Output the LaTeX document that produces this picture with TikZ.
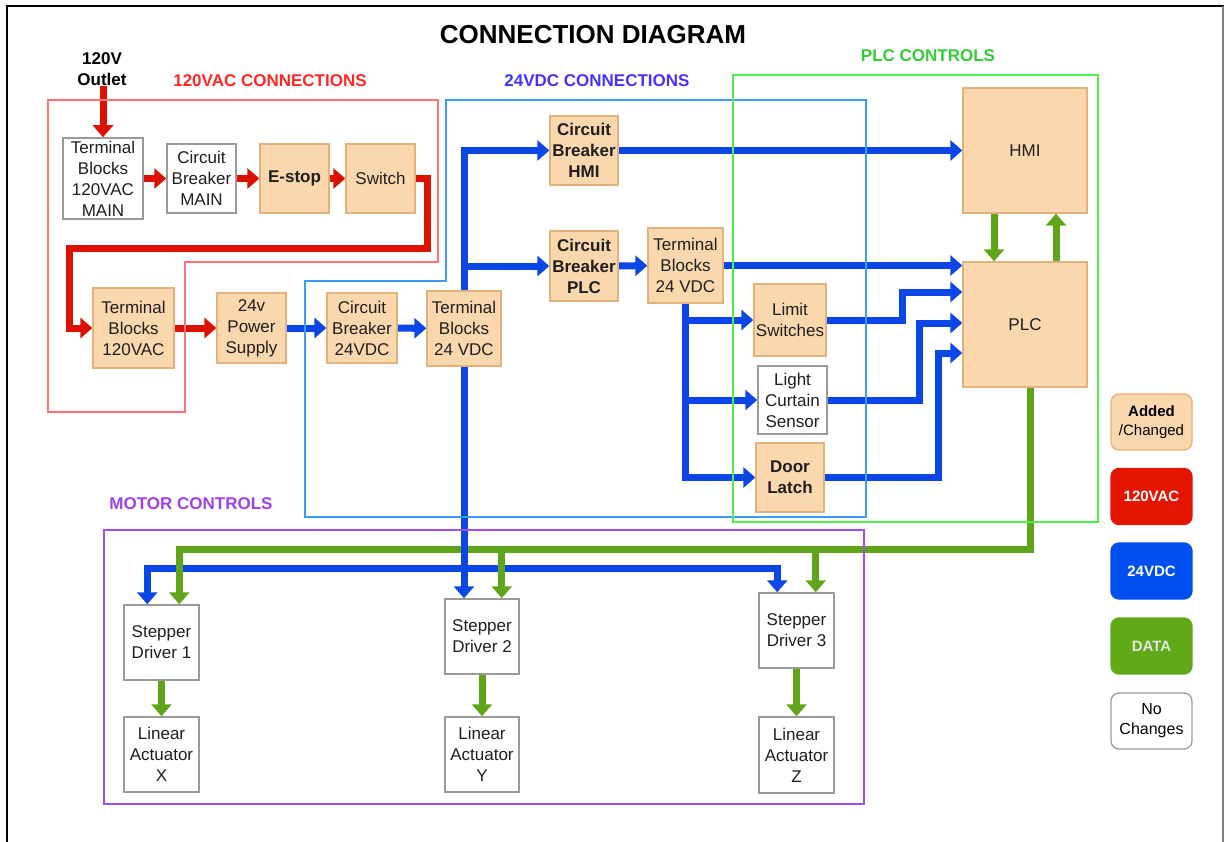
\documentclass[tikz,border=0pt]{standalone}
\usepackage{fontspec}
\setmainfont{Liberation Sans}
\usetikzlibrary{arrows.meta}

\pgfdeclarelayer{wires}
\pgfdeclarelayer{zones}
\pgfsetlayers{wires,zones,main}

\definecolor{peach}{HTML}{FAD7AC}
\definecolor{peachline}{HTML}{E3B27C}
\definecolor{boxgray}{HTML}{9A9A9A}
\definecolor{acred}{HTML}{DD1100}
\definecolor{dcblue}{HTML}{0B46E6}
\definecolor{datagreen}{HTML}{5FA519}
\definecolor{zonered}{HTML}{FF7373}
\definecolor{zoneblue}{HTML}{3D9BFF}
\definecolor{zonegreen}{HTML}{4CF04C}
\definecolor{zonepurple}{HTML}{A04CF2}
\definecolor{lblred}{HTML}{FF2626}
\definecolor{lblblue}{HTML}{4433FF}
\definecolor{lblgreen}{HTML}{33CC33}
\definecolor{lblpurple}{HTML}{9F3FF0}
\definecolor{legred}{HTML}{E51400}
\definecolor{legblue}{HTML}{0050EF}
\definecolor{leggreen}{HTML}{60A917}

\tikzset{
  txt/.style={font=\fontsize{17}{21}\selectfont, text=black!88, align=center, inner sep=0pt},
  newbox/.style={txt, draw=peachline, fill=peach, line width=1.3pt},
  oldbox/.style={txt, draw=boxgray, fill=white, line width=1.5pt},
  wire/.style={line width=7pt, -{Triangle[width=20pt,length=12pt]}},
  acwire/.style={wire, draw=acred},
  dcwire/.style={wire, draw=dcblue},
  datawire/.style={wire, draw=datagreen},
  zone/.style={line width=2.5pt},
  zonelabel/.style={font=\bfseries\fontsize{17}{20}\selectfont, inner sep=0pt},
  legend/.style={font=\fontsize{15}{19}\selectfont, align=center, inner sep=0pt,
    rounded corners=8pt, line width=1.3pt, minimum width=81pt, minimum height=56pt},
  legendbold/.style={legend, font=\bfseries\fontsize{15}{19}\selectfont},
}

\begin{document}
\begin{tikzpicture}[x=1pt, y=-1pt]
\useasboundingbox (0,0) rectangle (1225,842);

% page frame
\draw[black, line width=2pt] (7,842) -- (7,6) -- (1224,6);
\draw[gray, line width=1.5pt] (1223,6) -- (1223,842);

% headings
\node[font=\bfseries\fontsize{26}{30}\selectfont, inner sep=0pt] (title) at (593,35) {CONNECTION DIAGRAM};
\node[zonelabel, text=lblred] (lblac) at (270,81) {120VAC CONNECTIONS};
\node[zonelabel, text=lblblue] (lbldc) at (597,81) {24VDC CONNECTIONS};
\node[zonelabel, text=lblgreen] (lblplc) at (928,56) {PLC CONTROLS};
\node[zonelabel, text=lblpurple] (lblmotor) at (191,504) {MOTOR CONTROLS};
\node[txt, font=\bfseries\fontsize{17}{21}\selectfont, text=black] (outlet) at (102,69) {120V\\Outlet};

% 120 VAC side
\node[oldbox, minimum width=80pt, minimum height=81pt] (tbmain) at (103,178.5) {Terminal\\Blocks\\120VAC\\MAIN};
\node[oldbox, minimum width=69pt, minimum height=69pt] (cbmain) at (201.5,178.5) {Circuit\\Breaker\\MAIN};
\node[newbox, minimum width=69pt, minimum height=69pt] (estop) at (294.5,178.5) {\textbf{E-stop}};
\node[newbox, minimum width=69pt, minimum height=69pt] (switch) at (380.5,178.5) {Switch};
\node[newbox, minimum width=81pt, minimum height=80pt] (tbac) at (133.5,328) {Terminal\\Blocks\\120VAC};
\node[newbox, minimum width=69pt, minimum height=70pt] (psu) at (251.5,328) {24v\\Power\\Supply};

% 24 VDC side
\node[newbox, minimum width=70pt, minimum height=70pt] (cbdc) at (362,328) {Circuit\\Breaker\\24VDC};
\node[newbox, minimum width=74pt, minimum height=75pt] (tbdc) at (464,328.5) {Terminal\\Blocks\\24 VDC};
\node[newbox, minimum width=68pt, minimum height=69pt] (cbhmi) at (584,150.5) {\textbf{Circuit}\\\textbf{Breaker}\\\textbf{HMI}};
\node[newbox, minimum width=68pt, minimum height=70pt] (cbplc) at (584,266) {\textbf{Circuit}\\\textbf{Breaker}\\\textbf{PLC}};
\node[newbox, minimum width=75pt, minimum height=75pt] (tbplc) at (685.5,265.5) {Terminal\\Blocks\\24 VDC};
\node[newbox, minimum width=72pt, minimum height=72pt] (limit) at (790,320) {Limit\\Switches};
\node[oldbox, minimum width=69pt, minimum height=68pt] (curtain) at (792.5,400) {Light\\Curtain\\Sensor};
\node[newbox, minimum width=68pt, minimum height=69pt] (door) at (790,477.5) {\textbf{Door}\\\textbf{Latch}};

% PLC controls
\node[newbox, minimum width=124pt, minimum height=125pt] (hmi) at (1025,150.5) {HMI};
\node[newbox, minimum width=124pt, minimum height=125pt] (plc) at (1025,324.5) {PLC};

% motor controls
\node[oldbox, minimum width=75pt, minimum height=75pt] (sd1) at (161.5,642.5) {Stepper\\Driver 1};
\node[oldbox, minimum width=75pt, minimum height=75pt] (la1) at (161.5,754.5) {Linear\\Actuator\\X};
\node[oldbox, minimum width=74pt, minimum height=75pt] (sd2) at (482,636.5) {Stepper\\Driver 2};
\node[oldbox, minimum width=74pt, minimum height=75pt] (la2) at (482,754.5) {Linear\\Actuator\\Y};
\node[oldbox, minimum width=75pt, minimum height=75pt] (sd3) at (796.5,630.5) {Stepper\\Driver 3};
\node[oldbox, minimum width=75pt, minimum height=76pt] (la3) at (796.5,755) {Linear\\Actuator\\Z};

% legend
\node[legend, draw=peachline, fill=peach] (lgnew) at (1151.5,422) {\textbf{Added}\\/Changed};
\node[legendbold, draw=legred, fill=legred, text=white] (lgac) at (1151.5,496.5) {120VAC};
\node[legendbold, draw=legblue, fill=legblue, text=white] (lgdc) at (1151.5,571) {24VDC};
\node[legendbold, draw=leggreen, fill=leggreen, text=white!90!black] (lgdata) at (1151.5,646) {DATA};
\node[legend, draw=boxgray, fill=white, font=\fontsize{16}{20}\selectfont] (lgold) at (1151.5,721) {No\\Changes};

% bus heights and drop points
\coordinate (gy) at (0,549);
\coordinate (by) at (0,568);
\coordinate (sd1g) at ([xshift=56pt]sd1.north west);
\coordinate (sd1b) at ([xshift=24pt]sd1.north west);
\coordinate (sd2g) at ([xshift=-18pt]sd2.north east);
\coordinate (sd3g) at ([xshift=-19pt]sd3.north east);
\coordinate (sd3b) at ([xshift=19pt]sd3.north west);

\begin{pgfonlayer}{wires}
  % 120 VAC chain
  \draw[acwire] (tbmain.north |- outlet.south) -- (tbmain.north);
  \draw[acwire] (tbmain) -- (cbmain);
  \draw[acwire] (cbmain) -- (estop);
  \draw[acwire] (estop) -- (switch);
  \draw[acwire] (switch.east) -| (427,249) -| (69,328) -- (tbac.west);
  \draw[acwire] (tbac) -- (psu);

  % 24 VDC distribution
  \draw[dcwire] (psu) -- (cbdc);
  \draw[dcwire] (cbdc) -- (tbdc);
  \draw[dcwire] (tbdc.north) |- (cbhmi.west);
  \draw[dcwire] (tbdc.north) |- (cbplc.west);
  \draw[dcwire] (cbhmi) -- (hmi);
  \draw[dcwire] (cbplc) -- (tbplc);
  \draw[dcwire] (tbplc.east) -- (tbplc.east -| plc.west);
  \draw[dcwire] (tbplc.south) |- (limit.west);
  \draw[dcwire] (tbplc.south) |- (curtain.west);
  \draw[dcwire] (tbplc.south) |- (door.west);
  \draw[dcwire] (limit.east) -| (902,292) -- (plc.west |- 0,292);
  \draw[dcwire] (curtain.east) -| (919,323) -- (plc.west |- 0,323);
  \draw[dcwire] (door.east) -| (938,353) -- (plc.west |- 0,353);

  % PLC data bus to the drivers
  \draw[datawire, -, line cap=rect] ([xshift=5pt]plc.south) |- (sd1g |- gy);

  % 24 VDC to the drivers
  \draw[dcwire] (tbdc.south) -- (tbdc.south |- sd2.north);
  \draw[dcwire] (tbdc.south |- by) -| (sd1b);
  \draw[dcwire] (tbdc.south |- by) -| (sd3b);

  % data drops and HMI link
  \draw[datawire] (sd1g |- gy) -- (sd1g);
  \draw[datawire] (sd2g |- gy) -- (sd2g);
  \draw[datawire] (sd3g |- gy) -- (sd3g);
  \draw[datawire] ([xshift=-31pt]hmi.south) -- ([xshift=-31pt]plc.north);
  \draw[datawire] ([xshift=31pt]plc.north) -- ([xshift=31pt]hmi.south);
  \draw[datawire] (sd1) -- (la1);
  \draw[datawire] (sd2) -- (la2);
  \draw[datawire] (sd3) -- (la3);
\end{pgfonlayer}

\begin{pgfonlayer}{zones}
  \draw[zone, zonered] (48,100) -- (438,100) -- (438,262) -- (185,262) -- (185,412) -- (48,412) -- cycle;
  \draw[zone, zoneblue, line width=2.2pt] (305,281) -- (446,281) -- (446,100) -- (866,100) -- (866,517) -- (305,517) -- cycle;
  \draw[zone, zonegreen] (733,75) rectangle (1098,522);
  \draw[zone, zonepurple] (104,530) rectangle (864,804);
\end{pgfonlayer}
\end{tikzpicture}
\end{document}
